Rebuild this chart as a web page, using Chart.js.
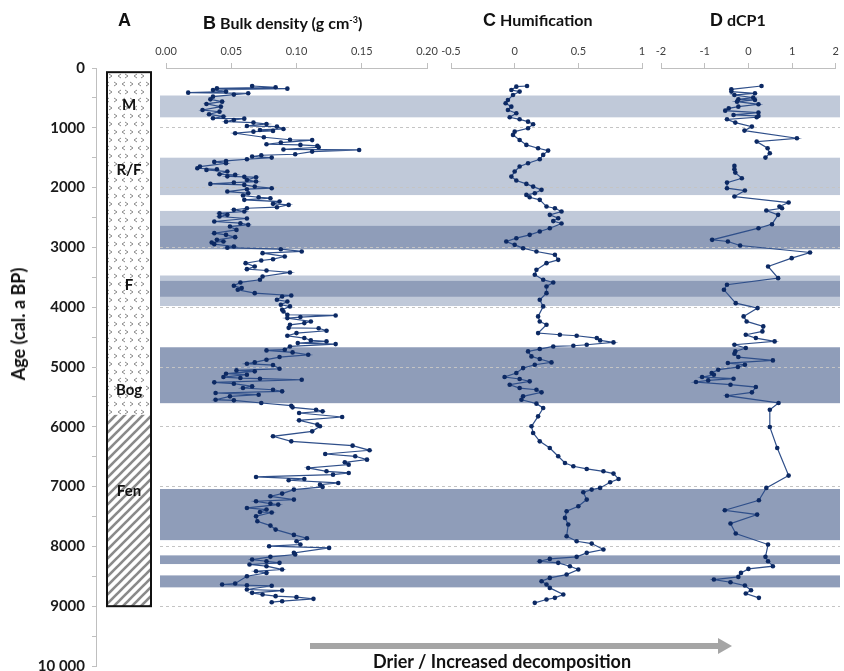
<!DOCTYPE html>
<html>
<head>
<meta charset="utf-8">
<title>Peat core proxies</title>
<script src="https://cdn.jsdelivr.net/npm/chart.js@4.4.1/dist/chart.umd.min.js"></script>
<style>
  html, body { margin: 0; background: #fff; }
  #fig { position: relative; width: 844px; height: 671px; overflow: hidden; font-family: Lato, "Open Sans", sans-serif; color: #111; }
  #fig canvas { position: absolute; left: 0; top: 0; }
  .ttl { position: absolute; top: 8px; font-weight: bold; font-size: 16px; line-height: 24px; white-space: nowrap; }
  .ttl b { font-family: "Liberation Sans", Arial, sans-serif; font-size: 18px; margin-right: 4px; }
  .ttl sup { font-size: 9px; }
  #ytitle { position: absolute; left: 18px; top: 324px; transform: translate(-50%, -50%) rotate(-90deg); font-weight: bold; font-size: 18px; white-space: nowrap; }
  #arrow { position: absolute; left: 310px; top: 643px; width: 408px; height: 6px; background: #a5a5a5; }
  #arrow::after { content: ""; position: absolute; left: 408px; top: -5px; border-left: 14px solid #a5a5a5; border-top: 8px solid transparent; border-bottom: 8px solid transparent; }
  #drier { position: absolute; left: 502px; top: 650px; transform: translateX(-50%); font-weight: bold; font-size: 18px; white-space: nowrap; }
</style>
</head>
<body>
<div id="fig">
  <canvas id="base" width="844" height="700"></canvas>
  <canvas id="chB" width="844" height="700"></canvas>
  <canvas id="chC" width="844" height="700"></canvas>
  <canvas id="chD" width="844" height="700"></canvas>
  <div class="ttl" style="left:118px"><b>A</b></div>
  <div class="ttl" style="left:203px"><b>B</b>Bulk density (g cm<sup>-3</sup>)</div>
  <div class="ttl" style="left:483px"><b>C</b>Humification</div>
  <div class="ttl" style="left:710px"><b>D</b>dCP1</div>
  <div id="ytitle">Age (cal. a BP)</div>
  <div id="arrow"></div>
  <div id="drier">Drier / Increased decomposition</div>
</div>
<script>
// ---- age axis ----
const ageTicks = [0, 1000, 2000, 3000, 4000, 5000, 6000, 7000, 8000, 9000, 10000];
const ageTickLabels = ["0", "1000", "2000", "3000", "4000", "5000", "6000", "7000", "8000", "9000", "10 000"];

// ---- shaded intervals (cal. a BP) ----
const bandTop    = [460, 1500, 2390, 3470, 2640, 3560, 4670, 7040, 8150, 8485];
const bandBottom = [825, 2125, 3030, 3980, 3030, 3825, 5605, 7895, 8295, 8685];
const bandShade  = ["light", "light", "light", "light", "dark", "dark", "dark", "dark", "dark", "dark"];

// ---- A: peat type / units ----
const peatTypes  = ["bog", "fen"];
const peatTop    = [70, 5800];
const peatBottom = [5800, 9000];
const unitNames  = ["M", "R/F", "F", "Bog", "Fen"];
const unitAges   = [620, 1700, 3625, 5380, 7080];

// ---- B: bulk density ----
const bdTicks = [0, 0.05, 0.10, 0.15, 0.20];
const bdTickLabels = ["0.00", "0.05", "0.10", "0.15", "0.20"];
const bdAges = [301, 323, 340, 345, 368, 395, 412, 423, 445, 479, 524, 563, 601, 646, 702, 730, 774, 813, 841, 847,
  869, 897, 913, 936, 969, 980, 1019, 1036, 1052, 1064, 1091, 1158, 1200, 1206, 1247, 1275, 1286, 1303, 1325, 1362,
  1370, 1398, 1442, 1459, 1481, 1498, 1526, 1554, 1570, 1593, 1648, 1676, 1693, 1704, 1732, 1777, 1788, 1812, 1820, 1827,
  1871, 1899, 1916, 1938, 1955, 1983, 2010, 2027, 2066, 2094, 2133, 2161, 2177, 2205, 2233, 2272, 2289, 2328, 2345, 2372,
  2400, 2428, 2456, 2484, 2517, 2567, 2595, 2623, 2651, 2707, 2762, 2790, 2829, 2874, 2901, 2918, 2946, 2985, 3005, 3030,
  3068, 3096, 3152, 3197, 3219, 3263, 3319, 3364, 3386, 3419, 3486, 3542, 3586, 3642, 3681, 3709, 3765, 3804, 3820, 3876,
  3904, 3960, 3987, 4043, 4071, 4126, 4138, 4165, 4182, 4238, 4266, 4294, 4345, 4352, 4394, 4433, 4477, 4516, 4555, 4572,
  4600, 4617, 4656, 4711, 4722, 4756, 4795, 4834, 4878, 4923, 4945, 4967, 5029, 5057, 5073, 5112, 5129, 5168, 5185, 5196,
  5213, 5257, 5279, 5324, 5352, 5380, 5407, 5435, 5463, 5491, 5547, 5558, 5602, 5647, 5675, 5714, 5742, 5769, 5836, 5892,
  5964, 5992, 6076, 6159, 6243, 6315, 6393, 6455, 6493, 6549, 6594, 6633, 6688, 6744, 6772, 6800, 6839, 6872, 6894, 6939,
  6967, 7006, 7050, 7117, 7162, 7217, 7245, 7284, 7301, 7357, 7384, 7425, 7433, 7496, 7579, 7652, 7719, 7808, 7864, 7914,
  7969, 7997, 8025, 8108, 8136, 8175, 8220, 8248, 8275, 8303, 8331, 8387, 8415, 8443, 8499, 8621, 8637, 8650, 8658, 8721,
  8738, 8777, 8805, 8832, 8849, 8877, 8916, 8933];
const bdValues = [0.066, 0.084, 0.039, 0.093, 0.036, 0.046, 0.017, 0.063, 0.052, 0.036, 0.034, 0.043, 0.031, 0.042, 0.028, 0.041, 0.033, 0.044, 0.036, 0.060,
  0.052, 0.046, 0.067, 0.077, 0.062, 0.085, 0.090, 0.072, 0.082, 0.067, 0.053, 0.075, 0.095, 0.112, 0.088, 0.077, 0.103, 0.116, 0.117, 0.090,
  0.148, 0.112, 0.099, 0.073, 0.066, 0.081, 0.062, 0.046, 0.037, 0.046, 0.026, 0.024, 0.039, 0.031, 0.047, 0.041, 0.053, 0.047, 0.060, 0.069,
  0.062, 0.069, 0.052, 0.034, 0.060, 0.068, 0.081, 0.062, 0.047, 0.063, 0.059, 0.071, 0.080, 0.060, 0.087, 0.082, 0.094, 0.085, 0.062, 0.052,
  0.060, 0.041, 0.047, 0.041, 0.062, 0.037, 0.057, 0.063, 0.049, 0.054, 0.037, 0.046, 0.053, 0.039, 0.044, 0.035, 0.037, 0.052, 0.047, 0.088,
  0.104, 0.074, 0.091, 0.082, 0.073, 0.061, 0.068, 0.062, 0.077, 0.095, 0.074, 0.072, 0.057, 0.052, 0.058, 0.055, 0.068, 0.096, 0.089, 0.085,
  0.093, 0.088, 0.095, 0.089, 0.090, 0.093, 0.130, 0.103, 0.093, 0.111, 0.106, 0.095, 0.094, 0.117, 0.123, 0.100, 0.093, 0.106, 0.111, 0.123,
  0.101, 0.130, 0.095, 0.091, 0.077, 0.097, 0.109, 0.087, 0.077, 0.068, 0.062, 0.082, 0.087, 0.054, 0.068, 0.046, 0.062, 0.044, 0.057, 0.072,
  0.104, 0.037, 0.052, 0.066, 0.059, 0.082, 0.089, 0.038, 0.071, 0.049, 0.038, 0.052, 0.073, 0.096, 0.097, 0.115, 0.120, 0.102, 0.135, 0.102,
  0.116, 0.118, 0.112, 0.082, 0.096, 0.143, 0.156, 0.122, 0.145, 0.154, 0.137, 0.140, 0.109, 0.123, 0.140, 0.128, 0.069, 0.106, 0.094, 0.132,
  0.118, 0.120, 0.098, 0.089, 0.080, 0.098, 0.069, 0.080, 0.086, 0.062, 0.077, 0.072, 0.081, 0.069, 0.070, 0.080, 0.084, 0.098, 0.108, 0.100,
  0.103, 0.079, 0.125, 0.098, 0.099, 0.080, 0.066, 0.077, 0.087, 0.064, 0.077, 0.089, 0.069, 0.077, 0.062, 0.053, 0.043, 0.062, 0.081, 0.062,
  0.089, 0.066, 0.074, 0.084, 0.100, 0.113, 0.089, 0.081];

// ---- C: humification ----
const humTicks = [-0.5, 0, 0.5, 1];
const humTickLabels = ["-0.5", "0", "0.5", "1"];
const humAges = [301, 312, 368, 395, 451, 535, 590, 646, 702, 757, 824, 858, 897, 941, 1008, 1064, 1119, 1203, 1286, 1342,
  1381, 1453, 1526, 1593, 1648, 1732, 1816, 1882, 1938, 1983, 2038, 2094, 2122, 2161, 2205, 2317, 2345, 2400, 2456, 2512,
  2560, 2600, 2679, 2734, 2790, 2846, 2901, 2957, 3013, 3068, 3124, 3208, 3263, 3375, 3458, 3542, 3586, 3653, 3765, 3876,
  3987, 4154, 4238, 4294, 4433, 4461, 4477, 4516, 4555, 4589, 4628, 4645, 4656, 4700, 4739, 4823, 4867, 4923, 4962, 5018,
  5101, 5168, 5201, 5240, 5296, 5352, 5380, 5424, 5491, 5547, 5613, 5686, 5825, 5992, 6103, 6243, 6354, 6493, 6605, 6660,
  6705, 6744, 6783, 6872, 6928, 7022, 7050, 7095, 7217, 7329, 7412, 7523, 7635, 7830, 7914, 7953, 8052, 8108, 8175, 8209,
  8248, 8275, 8331, 8387, 8471, 8527, 8582, 8638, 8694, 8805, 8860, 8888, 8944];
const humValues = [0.097, 0.013, -0.026, 0.039, -0.013, -0.053, -0.071, -0.026, -0.053, 0.013, -0.039, 0.039, 0.105, 0.145, 0.105, 0.0, -0.013, 0.039, 0.092, 0.184,
  0.263, 0.224, 0.197, 0.105, 0.039, 0.0, -0.026, 0.013, 0.092, 0.145, 0.211, 0.158, 0.092, 0.118, 0.197, 0.25, 0.316, 0.368, 0.276, 0.342,
  0.303, 0.368, 0.276, 0.197, 0.118, 0.013, -0.066, 0.0, 0.066, 0.171, 0.316, 0.342, 0.25, 0.171, 0.158, 0.224, 0.303, 0.25, 0.25, 0.197,
  0.224, 0.184, 0.197, 0.25, 0.184, 0.355, 0.487, 0.645, 0.671, 0.776, 0.566, 0.461, 0.303, 0.197, 0.105, 0.132, 0.197, 0.289, 0.158, 0.066,
  0.013, -0.079, 0.039, 0.118, -0.039, 0.039, 0.171, 0.211, 0.066, 0.053, 0.171, 0.224, 0.184, 0.132, 0.145, 0.197, 0.276, 0.342, 0.395, 0.461,
  0.566, 0.697, 0.776, 0.816, 0.75, 0.671, 0.605, 0.539, 0.566, 0.5, 0.408, 0.395, 0.421, 0.408, 0.487, 0.605, 0.697, 0.566, 0.487, 0.276,
  0.197, 0.342, 0.434, 0.5, 0.408, 0.276, 0.211, 0.25, 0.276, 0.382, 0.316, 0.25, 0.158];

// ---- D: dCP1 (null = no samples) ----
const dcpTicks = [-2, -1, 0, 1, 2];
const dcpTickLabels = ["-2", "-1", "0", "1", "2"];
const dcpAges = [301, 357, 395, 423, 451, 496, 524, 535, 563, 607, 646, 674, 713, 746, 785, 802, 824, 858, 913, 980,
  1047, 1175, 1231, 1342, 1426, 1498, null, 1637, 1693, 1749, 1843, 1916, 2010, 2049, 2150, 2250, 2317, 2345, 2384, 2456,
  2612, 2679, 2874, 2901, 2968, 3085, 3180, 3319, 3514, 3625, 3709, 3932, 4015, 4154, 4238, 4321, 4405, 4461, 4516, 4572,
  4628, 4683, 4739, 4778, 4834, 4890, 4934, 4962, 5001, 5045, 5101, 5129, 5168, 5196, 5224, 5251, 5296, 5335, 5424, 5480,
  5602, 5714, 6003, 6354, 6816, 7022, 7228, 7396, 7468, 7618, 7785, 7969, 8175, 8248, 8331, 8376, 8443, 8510, 8554, 8599,
  8655, 8733, 8788, 8860];
const dcpValues = [0.30, -0.39, -0.39, 0.15, -0.32, 0.11, -0.23, 0.15, -0.26, 0.23, -0.23, -0.45, -0.53, 0.23, -0.34, 0.23, 0.19, -0.49, -0.30, 0.08,
  -0.09, 1.11, 0.19, 0.44, 0.49, 0.39, null, -0.32, -0.32, -0.30, -0.15, -0.49, -0.49, -0.08, -0.32, 0.92, 0.71, 0.77, 0.41, 0.68,
  0.54, 0.23, -0.83, -0.47, -0.19, 1.41, 0.99, 0.45, 0.68, -0.49, -0.56, -0.29, 0.21, -0.11, -0.04, 0.34, 0.32, -0.06, 0.17, 0.60,
  -0.32, -0.06, -0.30, -0.32, -0.23, 0.56, -0.47, -0.08, -0.24, -0.69, -0.84, -0.79, -1.06, -0.34, -0.92, -1.20, -0.41, 0.17, 0.08, -0.49,
  0.69, 0.49, 0.49, 0.66, 0.92, 0.41, 0.24, -0.54, 0.20, -0.41, -0.29, 0.45, 0.39, 0.45, 0.56, 0.0, -0.17, -0.23, -0.79, -0.41,
  -0.08, 0.06, -0.06, 0.24];

// ---- styling ----
const W = 844, H = 700, PLOT_TOP = 68, PLOT_BOTTOM = 666;
const AXIS = "#bfbfbf";
const LIGHT = "#c0c9d9", DARK = "#8f9db9";
const LINE = "#2f4f8a", MARK = "#0c2963";
Chart.defaults.font.family = "Lato, 'Open Sans', sans-serif";

function makePattern(kind) {
  const c = document.createElement("canvas");
  const g = c.getContext("2d");
  g.strokeStyle = "#8a8a8a";
  if (kind === "bog") {
    c.width = 16; c.height = 16;
    g.strokeStyle = "#8a8a8a"; g.lineWidth = 1;
    const chev = (x, y, dir) => {
      g.beginPath();
      g.moveTo(x + (dir > 0 ? 0 : 3), y);
      g.lineTo(x + (dir > 0 ? 3 : 0), y + 2);
      g.lineTo(x + (dir > 0 ? 0 : 3), y + 4);
      g.stroke();
    };
    chev(2, 2, 1); chev(10, 2, -1); chev(6, 10, -1); chev(13, 10, 1);
  } else {
    c.width = 9; c.height = 9;
    g.strokeStyle = "#8a8a8a"; g.lineWidth = 2.6;
    g.beginPath(); g.moveTo(0, 9); g.lineTo(9, 0); g.stroke();
    g.beginPath(); g.moveTo(-4.5, 4.5); g.lineTo(4.5, -4.5); g.stroke();
    g.beginPath(); g.moveTo(4.5, 13.5); g.lineTo(13.5, 4.5); g.stroke();
  }
  return g.createPattern(c, "repeat");
}

// bands behind the grid, lithology column on the left
const backdrop = {
  id: "backdrop",
  beforeDraw(chart) {
    const { ctx, chartArea: a } = chart;
    const y = chart.scales.yAxis;
    ctx.save();
    bandTop.forEach((t, i) => {
      const top = y.getPixelForValue(t), bot = y.getPixelForValue(bandBottom[i]);
      ctx.fillStyle = bandShade[i] === "dark" ? DARK : LIGHT;
      ctx.fillRect(a.left, top, a.right - a.left, bot - top);
    });
    ctx.restore();
  },
  afterDraw(chart) {
    const { ctx } = chart;
    const y = chart.scales.yAxis;
    const x0 = 107, x1 = 151;
    ctx.save();
    peatTypes.forEach((t, i) => {
      const top = y.getPixelForValue(peatTop[i]), bot = y.getPixelForValue(peatBottom[i]);
      ctx.fillStyle = "#fff";
      ctx.fillRect(x0, top, x1 - x0, bot - top);
      ctx.fillStyle = makePattern(t);
      ctx.fillRect(x0, top, x1 - x0, bot - top);
    });
    const colTop = y.getPixelForValue(peatTop[0]);
    const colBot = y.getPixelForValue(peatBottom[peatBottom.length - 1]);
    ctx.strokeStyle = "#111"; ctx.lineWidth = 2;
    ctx.strokeRect(x0, colTop, x1 - x0, colBot - colTop);
    ctx.font = "bold 15px Lato, 'Open Sans', sans-serif";
    ctx.fillStyle = "#111"; ctx.textAlign = "center"; ctx.textBaseline = "middle";
    unitNames.forEach((n, i) => ctx.fillText(n, (x0 + x1) / 2, y.getPixelForValue(unitAges[i])));
    ctx.restore();
  }
};

new Chart(document.getElementById("base"), {
  type: "line",
  data: { datasets: [] },
  options: {
    responsive: false, animation: false, events: [],
    layout: { padding: { left: 0, right: W - 840, top: PLOT_TOP, bottom: H - PLOT_BOTTOM } },
    plugins: { legend: { display: false }, tooltip: { enabled: false } },
    scales: {
      x: { type: "linear", display: false, min: 0, max: 1 },
      yAxis: {
        type: "linear", position: "left", weight: 10, reverse: true, min: 0, max: 10000,
        afterFit: (s) => { s.width = 96; },
        ticks: {
          stepSize: 500, autoSkip: false, padding: 7, color: "#1a1a1a",
          font: { size: 15, weight: "bold" },
          callback: (v) => { const i = ageTicks.indexOf(v); return i < 0 ? "" : ageTickLabels[i]; }
        },
        grid: { drawOnChartArea: false, tickLength: 4, color: AXIS },
        border: { color: AXIS }
      },
      yGrid: {
        type: "linear", position: "left", weight: 0, reverse: true, min: 0, max: 10000,
        afterFit: (s) => { s.width = 64; },
        ticks: { display: false, stepSize: 1000 },
        grid: {
          drawTicks: false, lineWidth: 1,
          color: (c) => (c.tick && (c.tick.value === 0 || c.tick.value === 10000)) ? "rgba(0,0,0,0)" : "#c4c4c4"
        },
        border: { display: false, dash: [3, 3] }
      }
    }
  },
  plugins: [backdrop]
});

function panel(id, ages, values, min, max, ticks, labels, left, right) {
  return new Chart(document.getElementById(id), {
    type: "line",
    data: {
      datasets: [{
        data: ages.map((a, i) => ({ x: values[i], y: a })),
        borderColor: LINE, borderWidth: 1.2, tension: 0, spanGaps: false,
        pointRadius: 2.3, pointBackgroundColor: MARK, pointBorderWidth: 0
      }]
    },
    options: {
      responsive: false, animation: false, events: [],
      layout: { padding: { left: left, right: W - right, top: PLOT_TOP - 40, bottom: H - PLOT_BOTTOM } },
      plugins: { legend: { display: false }, tooltip: { enabled: false } },
      scales: {
        x: {
          type: "linear", position: "top", min: min, max: max,
          afterBuildTicks: (s) => { s.ticks = ticks.map((v) => ({ value: v })); },
          afterFit: (s) => { s.height = 40; },
          ticks: {
            autoSkip: false, maxRotation: 0, padding: 5, color: "#404040", font: { size: 11 },
            callback: (v) => { const i = ticks.findIndex((t) => Math.abs(t - v) < 1e-9); return i < 0 ? "" : labels[i]; }
          },
          grid: { drawOnChartArea: false, tickLength: 5, color: AXIS },
          border: { color: AXIS }
        },
        y: { type: "linear", display: false, reverse: true, min: 0, max: 10000 }
      }
    }
  });
}

panel("chB", bdAges, bdValues, 0, 0.2, bdTicks, bdTickLabels, 166, 427);
panel("chC", humAges, humValues, -0.5, 1, humTicks, humTickLabels, 451, 642);
panel("chD", dcpAges, dcpValues, -2, 2, dcpTicks, dcpTickLabels, 661, 839);
</script>
</body>
</html>
